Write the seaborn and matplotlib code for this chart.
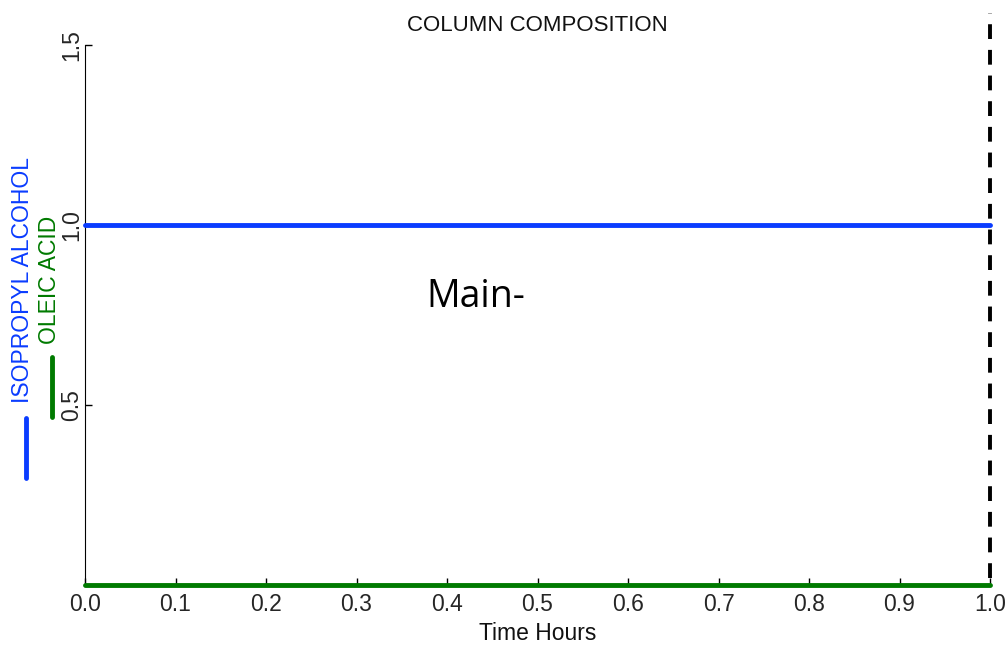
import matplotlib
matplotlib.use("Agg")
import matplotlib.pyplot as plt
import seaborn as sns
import pandas as pd
from matplotlib.lines import Line2D

sns.set_style("white")
plt.rcParams['font.family'] = ['Liberation Sans', 'DejaVu Sans']

time_hours = [0.0, 1.0]
isopropyl = [1.0, 1.0]
oleic = [0.0, 0.0]
x_ticks = [0.0, 0.1, 0.2, 0.3, 0.4, 0.5, 0.6, 0.7, 0.8, 0.9, 1.0]
y_ticks = [0.5, 1.0, 1.5]
series_names = ["ISOPROPYL ALCOHOL", "OLEIC ACID"]
series_colors = ["#0a3cff", "#007a00"]

df = pd.DataFrame({"Time Hours": time_hours * 2,
                   "value": isopropyl + oleic,
                   "series": [series_names[0]] * 2 + [series_names[1]] * 2})

fig = plt.figure(figsize=(10.08, 6.46), dpi=100)
ax = fig.add_axes([85 / 1008, (646 - 585) / 646, (990 - 85) / 1008, 540 / 646])

sns.lineplot(data=df, x="Time Hours", y="value", hue="series",
             palette=dict(zip(series_names, series_colors)), linewidth=3.5,
             ax=ax, legend=False, clip_on=False, zorder=3)

FS = 16.5
ax.set_xlim(0, 1.0)
ax.set_ylim(0, 1.5)
ax.set_xticks(x_ticks)
ax.set_xticklabels([f"{v:.1f}" for v in x_ticks], fontsize=FS)
ax.set_yticks(y_ticks)
ax.set_yticklabels([f"{v:.1f}" for v in y_ticks], fontsize=FS, rotation=90, va="center")
ax.tick_params(direction="in", length=5, width=1, color="black", left=True, bottom=True)
ax.tick_params(axis="x", pad=6)
ax.tick_params(axis="y", pad=1)
for s in ["top", "right"]:
    ax.spines[s].set_visible(False)
ax.spines["left"].set_color("black")
ax.spines["bottom"].set_color("black")
ax.set_xlabel("Time Hours", fontsize=FS, labelpad=4, color="#111111")
ax.set_ylabel("")
ax.set_title("COLUMN COMPOSITION", fontsize=16, pad=10, color="#111111")

# dashed vertical marker at end time
ax.plot([1.0, 1.0], [0.02, 1.59], color="black", linewidth=2.8,
        linestyle=(0, (3.8, 2.8)), clip_on=False, zorder=4)

# rotated legend on the left
fig.text(23 / 1008, 1 - 280 / 646, series_names[0], rotation=90, color=series_colors[0],
         fontsize=FS, ha="center", va="center")
fig.add_artist(Line2D([26 / 1008, 26 / 1008], [1 - 418 / 646, 1 - 478 / 646],
                      color=series_colors[0], linewidth=3.5, solid_capstyle="round"))
fig.text(50 / 1008, 1 - 280 / 646, series_names[1], rotation=90, color=series_colors[1],
         fontsize=FS, ha="center", va="center")
fig.add_artist(Line2D([52 / 1008, 52 / 1008], [1 - 357 / 646, 1 - 417 / 646],
                      color=series_colors[1], linewidth=3.5, solid_capstyle="round"))

fig.text(476 / 1008, 1 - 297 / 646, "Main-", fontsize=27, family=["Open Sans", "DejaVu Sans"],
         ha="center", va="center", color="black")

fig.savefig("out.png", dpi=100)
